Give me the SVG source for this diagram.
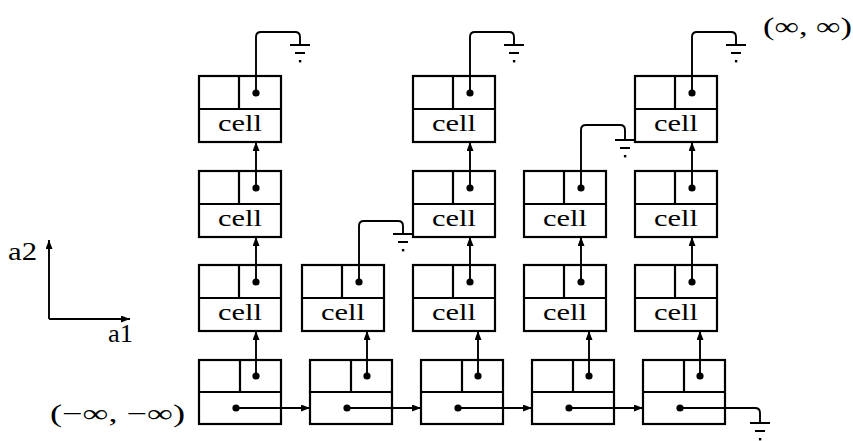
<svg xmlns="http://www.w3.org/2000/svg" width="853" height="441" viewBox="0 0 853 441">
<style>
.box{fill:none;stroke:#000;stroke-width:2.2}
.w{fill:none;stroke:#000;stroke-width:1.9}
.g{fill:none;stroke:#000;stroke-width:1.9}
.dot{fill:#000}
.t{font-family:"Liberation Serif","DejaVu Serif",serif;font-size:23px;fill:#000}
.lbl{font-family:"Liberation Serif","DejaVu Serif",serif;font-size:25px;fill:#000}
</style>
<defs>
<marker id="ah" markerUnits="userSpaceOnUse" markerWidth="10" markerHeight="8" refX="9" refY="3.5" orient="auto">
<path d="M0,0 L9,3.5 L0,7 z" fill="#000"/>
</marker>
<symbol id="gnd" overflow="visible">
<path class="g" d="M-10,0 H10 M-5,8 H5"/>
<rect x="-1.1" y="15" width="2.4" height="2.4" fill="#000"/>
</symbol>
<g id="ucell">
<rect class="box" x="0" y="0" width="82" height="66"/>
<path class="box" d="M0,33 H82 M40,0 V33"/>
<circle class="dot" cx="57" cy="17" r="3.6"/>
<text class="t" x="41" y="55" text-anchor="middle" textLength="44" lengthAdjust="spacingAndGlyphs">cell</text>
</g>
<g id="bcell">
<rect class="box" x="0" y="0" width="82" height="64"/>
<path class="box" d="M0,32 H82 M41,0 V32"/>
<circle class="dot" cx="57" cy="16" r="3.6"/>
<circle class="dot" cx="37" cy="48" r="3.6"/>
</g>
</defs>
<rect width="853" height="441" fill="#fff"/>

<g id="axes">
<line class="w" x1="49" y1="319" x2="49" y2="240" marker-end="url(#ah)"/>
<line class="w" x1="49" y1="319" x2="130" y2="319" marker-end="url(#ah)"/>
<text class="lbl" x="8" y="260" textLength="29" lengthAdjust="spacingAndGlyphs">a2</text>
<text class="lbl" x="108" y="342" textLength="25" lengthAdjust="spacingAndGlyphs">a1</text>
</g>

<text class="lbl" x="50" y="422" font-size="26" textLength="135" lengthAdjust="spacingAndGlyphs">(−∞, −∞)</text>
<text class="lbl" x="763" y="35" font-size="26" textLength="89" lengthAdjust="spacingAndGlyphs">(∞, ∞)</text>

<g id="b1"><use href="#bcell" x="199" y="360"/></g>
<g id="b2"><use href="#bcell" x="310" y="360"/></g>
<g id="b3"><use href="#bcell" x="421" y="360"/></g>
<g id="b4"><use href="#bcell" x="532" y="360"/></g>
<g id="b5"><use href="#bcell" x="643" y="360"/></g>

<g id="c1r2"><use href="#ucell" x="199" y="265"/></g>
<g id="c1r3"><use href="#ucell" x="199" y="171"/></g>
<g id="c1r4"><use href="#ucell" x="199" y="76"/></g>
<g id="c2r2"><use href="#ucell" x="302" y="265"/></g>
<g id="c3r2"><use href="#ucell" x="413" y="265"/></g>
<g id="c3r3"><use href="#ucell" x="413" y="171"/></g>
<g id="c3r4"><use href="#ucell" x="413" y="76"/></g>
<g id="c4r2"><use href="#ucell" x="524" y="265"/></g>
<g id="c4r3"><use href="#ucell" x="524" y="171"/></g>
<g id="c5r2"><use href="#ucell" x="635" y="265"/></g>
<g id="c5r3"><use href="#ucell" x="635" y="171"/></g>
<g id="c5r4"><use href="#ucell" x="635" y="76"/></g>

<g id="connectors">
<line class="w" x1="236" y1="408" x2="310" y2="408" marker-end="url(#ah)"/>
<line class="w" x1="347" y1="408" x2="421" y2="408" marker-end="url(#ah)"/>
<line class="w" x1="458" y1="408" x2="532" y2="408" marker-end="url(#ah)"/>
<line class="w" x1="569" y1="408" x2="643" y2="408" marker-end="url(#ah)"/>
<path class="w" d="M680,408 H755 Q760,408 760,413 V423"/>
<use href="#gnd" x="760" y="423"/>
<line class="w" x1="256" y1="376" x2="256" y2="331" marker-end="url(#ah)"/>
<line class="w" x1="367" y1="376" x2="367" y2="331" marker-end="url(#ah)"/>
<line class="w" x1="478" y1="376" x2="478" y2="331" marker-end="url(#ah)"/>
<line class="w" x1="589" y1="376" x2="589" y2="331" marker-end="url(#ah)"/>
<line class="w" x1="700" y1="376" x2="700" y2="331" marker-end="url(#ah)"/>
<line class="w" x1="256" y1="282" x2="256" y2="237" marker-end="url(#ah)"/>
<line class="w" x1="256" y1="188" x2="256" y2="142" marker-end="url(#ah)"/>
<line class="w" x1="470" y1="282" x2="470" y2="237" marker-end="url(#ah)"/>
<line class="w" x1="470" y1="188" x2="470" y2="142" marker-end="url(#ah)"/>
<line class="w" x1="581" y1="282" x2="581" y2="237" marker-end="url(#ah)"/>
<line class="w" x1="692" y1="282" x2="692" y2="237" marker-end="url(#ah)"/>
<line class="w" x1="692" y1="188" x2="692" y2="142" marker-end="url(#ah)"/>
<path class="w" d="M256,93 V37 Q256,32 261,32 H295 Q300,32 300,37 V45"/>
<use href="#gnd" x="300" y="45"/>
<path class="w" d="M470,93 V37 Q470,32 475,32 H509 Q514,32 514,37 V45"/>
<use href="#gnd" x="514" y="45"/>
<path class="w" d="M692,93 V37 Q692,32 697,32 H731 Q736,32 736,37 V45"/>
<use href="#gnd" x="736" y="45"/>
<path class="w" d="M359,282 V226 Q359,221 364,221 H398 Q403,221 403,226 V234"/>
<use href="#gnd" x="403" y="234"/>
<path class="w" d="M581,188 V130 Q581,125 586,125 H620 Q625,125 625,130 V140"/>
<use href="#gnd" x="625" y="140"/>
</g>
</svg>
